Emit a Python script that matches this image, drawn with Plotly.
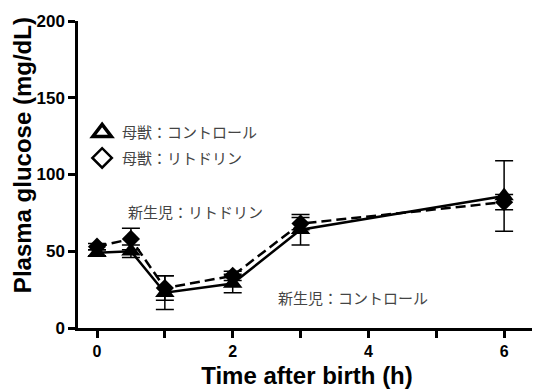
import plotly.graph_objects as go

time_h = [0, 0.5, 1, 2, 3, 6]
ctrl_vals = [49, 50, 23, 29, 64, 86]
ctrl_err = [2, 4, 11, 6, 10, 23]
rito_vals = [53, 58, 26, 34, 68, 82]
rito_err = [2, 7, 8, 3, 4, 5]

x_ticks = [0, 1, 2, 3, 4, 5, 6]
x_ticktext = ["0", "", "2", "", "4", "", "6"]
y_ticks = [0, 50, 100, 150, 200]

legend_labels = ["母獣：コントロール", "母獣：リトドリン"]
label_rito = "新生児：リトドリン"
label_ctrl = "新生児：コントロール"
x_title = "Time after birth (h)"
y_title = "Plasma glucose (mg/dL)"

jp_font = dict(family="Noto Sans CJK JP", size=15, color="#444444")

fig = go.Figure()
fig.add_trace(go.Scatter(
    x=time_h, y=rito_vals, mode="lines+markers",
    line=dict(color="black", width=2.5, dash="10px,5px"),
    marker=dict(symbol="diamond", size=14, color="black"),
    error_y=dict(type="data", array=rito_err, color="black", thickness=1.5, width=9),
    showlegend=False))
fig.add_trace(go.Scatter(
    x=time_h, y=ctrl_vals, mode="lines+markers",
    line=dict(color="black", width=2.5),
    marker=dict(symbol="triangle-up", size=17, color="black"),
    error_y=dict(type="data", array=ctrl_err, color="black", thickness=1.5, width=9),
    showlegend=False))
# legend entries (maternal groups)
fig.add_trace(go.Scatter(
    x=[None], y=[None], mode="markers", name=legend_labels[0], legendgroup="a",
    marker=dict(symbol="triangle-up-open", size=17, color="black", line=dict(width=3.5))))
fig.add_trace(go.Scatter(
    x=[None], y=[None], mode="markers", name=legend_labels[1], legendgroup="b",
    marker=dict(symbol="diamond-open", size=15, color="black", line=dict(width=2.5))))

fig.add_annotation(x=0.43, y=76, xref="x", yref="y", text=label_rito, showarrow=False,
                   xanchor="left", yanchor="middle", font=jp_font)
fig.add_annotation(x=2.64, y=20, xref="x", yref="y", text=label_ctrl, showarrow=False,
                   xanchor="left", yanchor="middle", font=jp_font)

axis_font = dict(family="Liberation Sans", size=24, color="black")

fig.add_annotation(x=-0.122, y=0.5635, xref="paper", yref="paper", text="<b>" + y_title + "</b>",
                   textangle=-90, showarrow=False, xanchor="center", yanchor="middle",
                   font=axis_font)

fig.update_layout(
    template="none",
    width=532, height=381,
    margin=dict(l=70, r=4, t=13, b=61),
    paper_bgcolor="white", plot_bgcolor="white",
    font=dict(family="Liberation Sans"),
    legend=dict(x=0.009, y=0.69, xanchor="left", yanchor="top",
                font=jp_font, bgcolor="rgba(0,0,0,0)", tracegroupgap=3, itemwidth=30),
    xaxis=dict(range=[-0.28, 6.47], tickvals=x_ticks, ticktext=x_ticktext, automargin=False,
               showgrid=False, zeroline=False, showline=True, linecolor="black", linewidth=2.5,
               ticks="outside", ticklen=7, tickwidth=2.5, tickcolor="black",
               tickfont=dict(family="Liberation Sans", size=16, color="black", weight="bold"),
               title=dict(text="<b>" + x_title + "</b>", font=axis_font, standoff=9)),
    yaxis=dict(range=[0, 200], tickvals=y_ticks, automargin=False,
               showgrid=False, zeroline=False, showline=True, linecolor="black", linewidth=2.5,
               ticks="outside", ticklen=7, tickwidth=2.5, tickcolor="black",
               tickfont=dict(family="Liberation Sans", size=17, color="black", weight="bold")),
)

fig.write_html("out.html")
